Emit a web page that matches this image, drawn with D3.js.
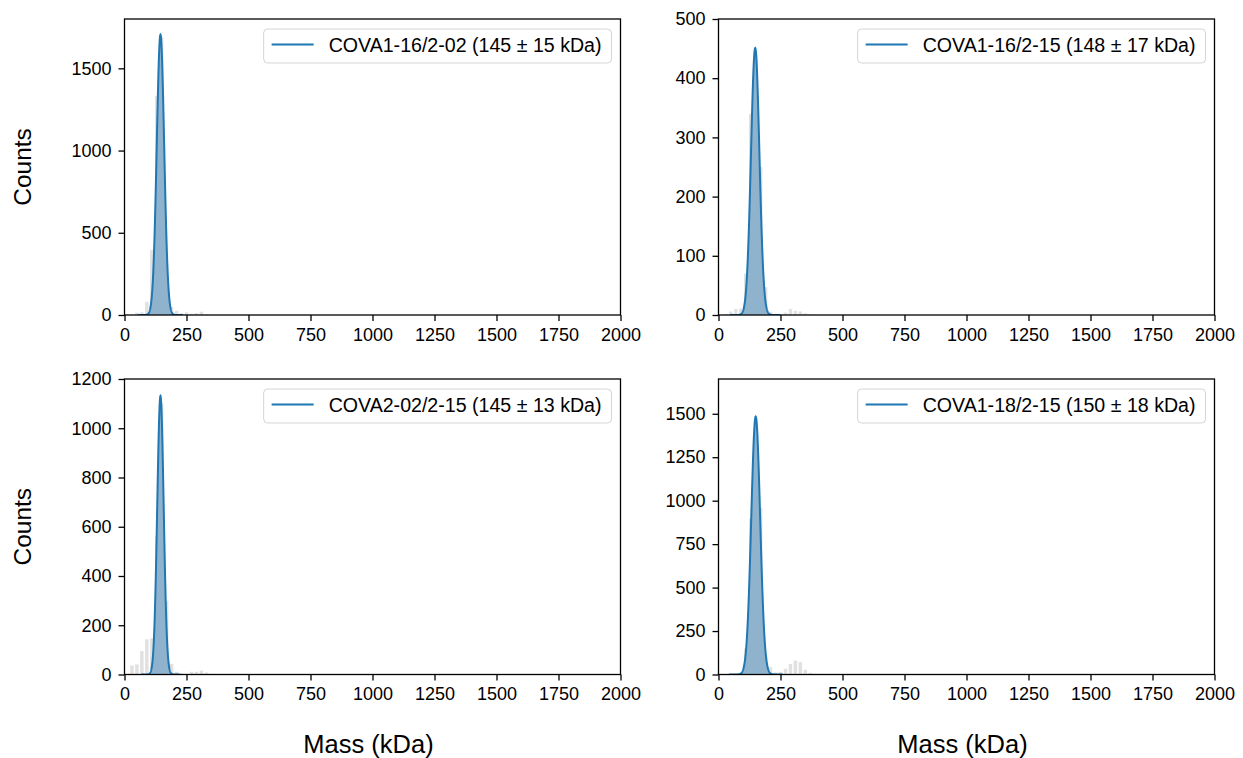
<!DOCTYPE html>
<html>
<head>
<meta charset="utf-8">
<script src="https://cdn.jsdelivr.net/npm/d3@7"></script>
<style>
  body { margin: 0; background: #fff; }
  svg { display: block; }
  text { font-family: "Liberation Sans", Arial, Helvetica, sans-serif; fill: #000; }
</style>
</head>
<body>
<svg id="chart" width="1243" height="758"></svg>
<script>
// Mass photometry histograms of four IgG samples with Gaussian fits.
const sampleNames = ["COVA1-16/2-02", "COVA1-16/2-15", "COVA2-02/2-15", "COVA1-18/2-15"];
const fitMean = [145, 148, 145, 150];      // kDa
const fitSigma = [15, 17, 13, 18];         // kDa
const fitPeak = [1705, 451, 1131, 1484];   // counts at the fitted maximum
const countMax = [1800, 500, 1200, 1700];
const countTicks = [
  [0, 500, 1000, 1500],
  [0, 100, 200, 300, 400, 500],
  [0, 200, 400, 600, 800, 1000, 1200],
  [0, 250, 500, 750, 1000, 1250, 1500]
];
const massTicks = [0, 250, 500, 750, 1000, 1250, 1500, 1750, 2000];
const massMax = 2000;

// Histogram bins (left edge, kDa) and counts per sample
const binStart = [0, 20, 40, 60, 80, 100, 120, 140, 160, 180, 200, 220, 240, 260, 280, 300, 320, 340, 360, 380, 400, 420, 440];
const binWidthKda = 20;
const countsA = [0, 0, 14, 16, 80, 396, 1332, 1690, 150, 47, 26, 10, 16, 8, 12, 20, 4, 2, 0, 0, 0, 0, 0];
const countsB = [0, 2, 6, 10, 11, 70, 340, 440, 250, 47, 5, 2, 0, 4, 10, 7, 6, 3, 1, 0, 0, 0, 0];
const countsC = [0, 37, 41, 95, 143, 147, 560, 1100, 300, 43, 11, 5, 3, 11, 11, 16, 8, 3, 1, 0, 0, 0, 0];
const countsD = [0, 0, 3, 6, 6, 150, 900, 1450, 960, 110, 42, 12, 15, 33, 61, 80, 71, 27, 10, 4, 3, 2, 2];
const binCounts = [countsA, countsB, countsC, countsD];

const panels = [
  { left: 124.5, top: 19,  width: 496, height: 296 },
  { left: 718.5, top: 19,  width: 496, height: 296 },
  { left: 124.5, top: 379, width: 496, height: 295.5 },
  { left: 718.5, top: 379, width: 496, height: 295.5 }
];

const svg = d3.select("#chart");
const blue = "#1f77b4";

panels.forEach((p, i) => {
  const w = p.width, h = p.height;
  const x = d3.scaleLinear().domain([0, massMax]).range([0, w]);
  const y = d3.scaleLinear().domain([0, countMax[i]]).range([h, 0]);
  const g = svg.append("g").attr("transform", `translate(${p.left},${p.top})`);

  const clipId = "clip" + i;
  g.append("clipPath").attr("id", clipId)
    .append("rect").attr("width", w).attr("height", h);
  const plot = g.append("g").attr("clip-path", `url(#${clipId})`);

  // histogram bars
  const bins = binStart.map((s, j) => ({ start: s, count: binCounts[i][j] }));
  const binPx = x(binWidthKda) - x(0);
  const barPx = binPx * 0.7;
  plot.selectAll("rect.bin").data(bins).join("rect")
    .attr("class", "bin")
    .attr("x", d => x(d.start) + (binPx - barPx) / 2)
    .attr("width", barPx)
    .attr("y", d => y(d.count))
    .attr("height", d => h - y(d.count))
    .attr("fill", "#e1e1e1");

  // Gaussian fit
  const mu = fitMean[i], sd = fitSigma[i], amp = fitPeak[i];
  const masses = d3.range(mu - 6 * sd, mu + 6 * sd + 1e-6, sd / 25);
  const fit = masses.map(m => [m, amp * Math.exp(-0.5 * ((m - mu) / sd) ** 2)]);
  plot.append("path").datum(fit)
    .attr("d", d3.area().x(d => x(d[0])).y0(h).y1(d => y(d[1])))
    .attr("fill", "#8fb2cd");
  plot.append("path").datum(fit)
    .attr("d", d3.line().x(d => x(d[0])).y(d => y(d[1])))
    .attr("fill", "none").attr("stroke", blue).attr("stroke-width", 2);

  // axes
  const xAxis = g.append("g").attr("transform", `translate(0,${h})`)
    .call(d3.axisBottom(x).tickValues(massTicks).tickSize(6).tickPadding(7).tickFormat(d3.format("d")));
  const yAxis = g.append("g")
    .call(d3.axisLeft(y).tickValues(countTicks[i]).tickSize(6).tickPadding(7).tickFormat(d3.format("d")));
  [xAxis, yAxis].forEach(a => {
    a.select(".domain").remove();
    a.selectAll(".tick line").attr("stroke", "#000").attr("stroke-width", 1.3);
    a.selectAll(".tick text").attr("font-size", 18)
      .style("font-family", '"Liberation Sans", Arial, sans-serif').attr("fill", "#000");
  });

  // frame
  g.append("rect").attr("width", w).attr("height", h)
    .attr("fill", "none").attr("stroke", "#000").attr("stroke-width", 1.3);

  // legend
  const lg = g.append("g");
  const box = lg.append("rect");
  const label = lg.append("text")
    .attr("font-size", 19.6)
    .attr("dominant-baseline", "central")
    .text(`${sampleNames[i]} (${mu} ± ${sd} kDa)`);
  const tw = label.node().getComputedTextLength();
  const boxRight = w - 9;
  const textX = boxRight - 10 - tw;
  const lineX1 = textX - 57, lineX2 = textX - 15;
  const boxLeft = lineX1 - 8;
  label.attr("x", textX).attr("y", 26);
  lg.append("line").attr("x1", lineX1).attr("x2", lineX2).attr("y1", 25.5).attr("y2", 25.5)
    .attr("stroke", blue).attr("stroke-width", 2);
  box.attr("x", boxLeft).attr("y", 10).attr("width", boxRight - boxLeft).attr("height", 34)
    .attr("rx", 4).attr("fill", "#fff").attr("fill-opacity", 0.85)
    .attr("stroke", "#d5d5d5").attr("stroke-width", 1);

  // axis titles
  if (i % 2 === 0) {
    svg.append("text")
      .attr("transform", `translate(22,${p.top + h / 2}) rotate(-90)`)
      .attr("text-anchor", "middle").attr("dominant-baseline", "central")
      .attr("font-size", 24.5).text("Counts");
  }
  if (i >= 2) {
    svg.append("text")
      .attr("x", p.left + w / 2 - 4).attr("y", 744)
      .attr("text-anchor", "middle").attr("dominant-baseline", "central")
      .attr("font-size", 25.5).text("Mass (kDa)");
  }
});
</script>
</body>
</html>
